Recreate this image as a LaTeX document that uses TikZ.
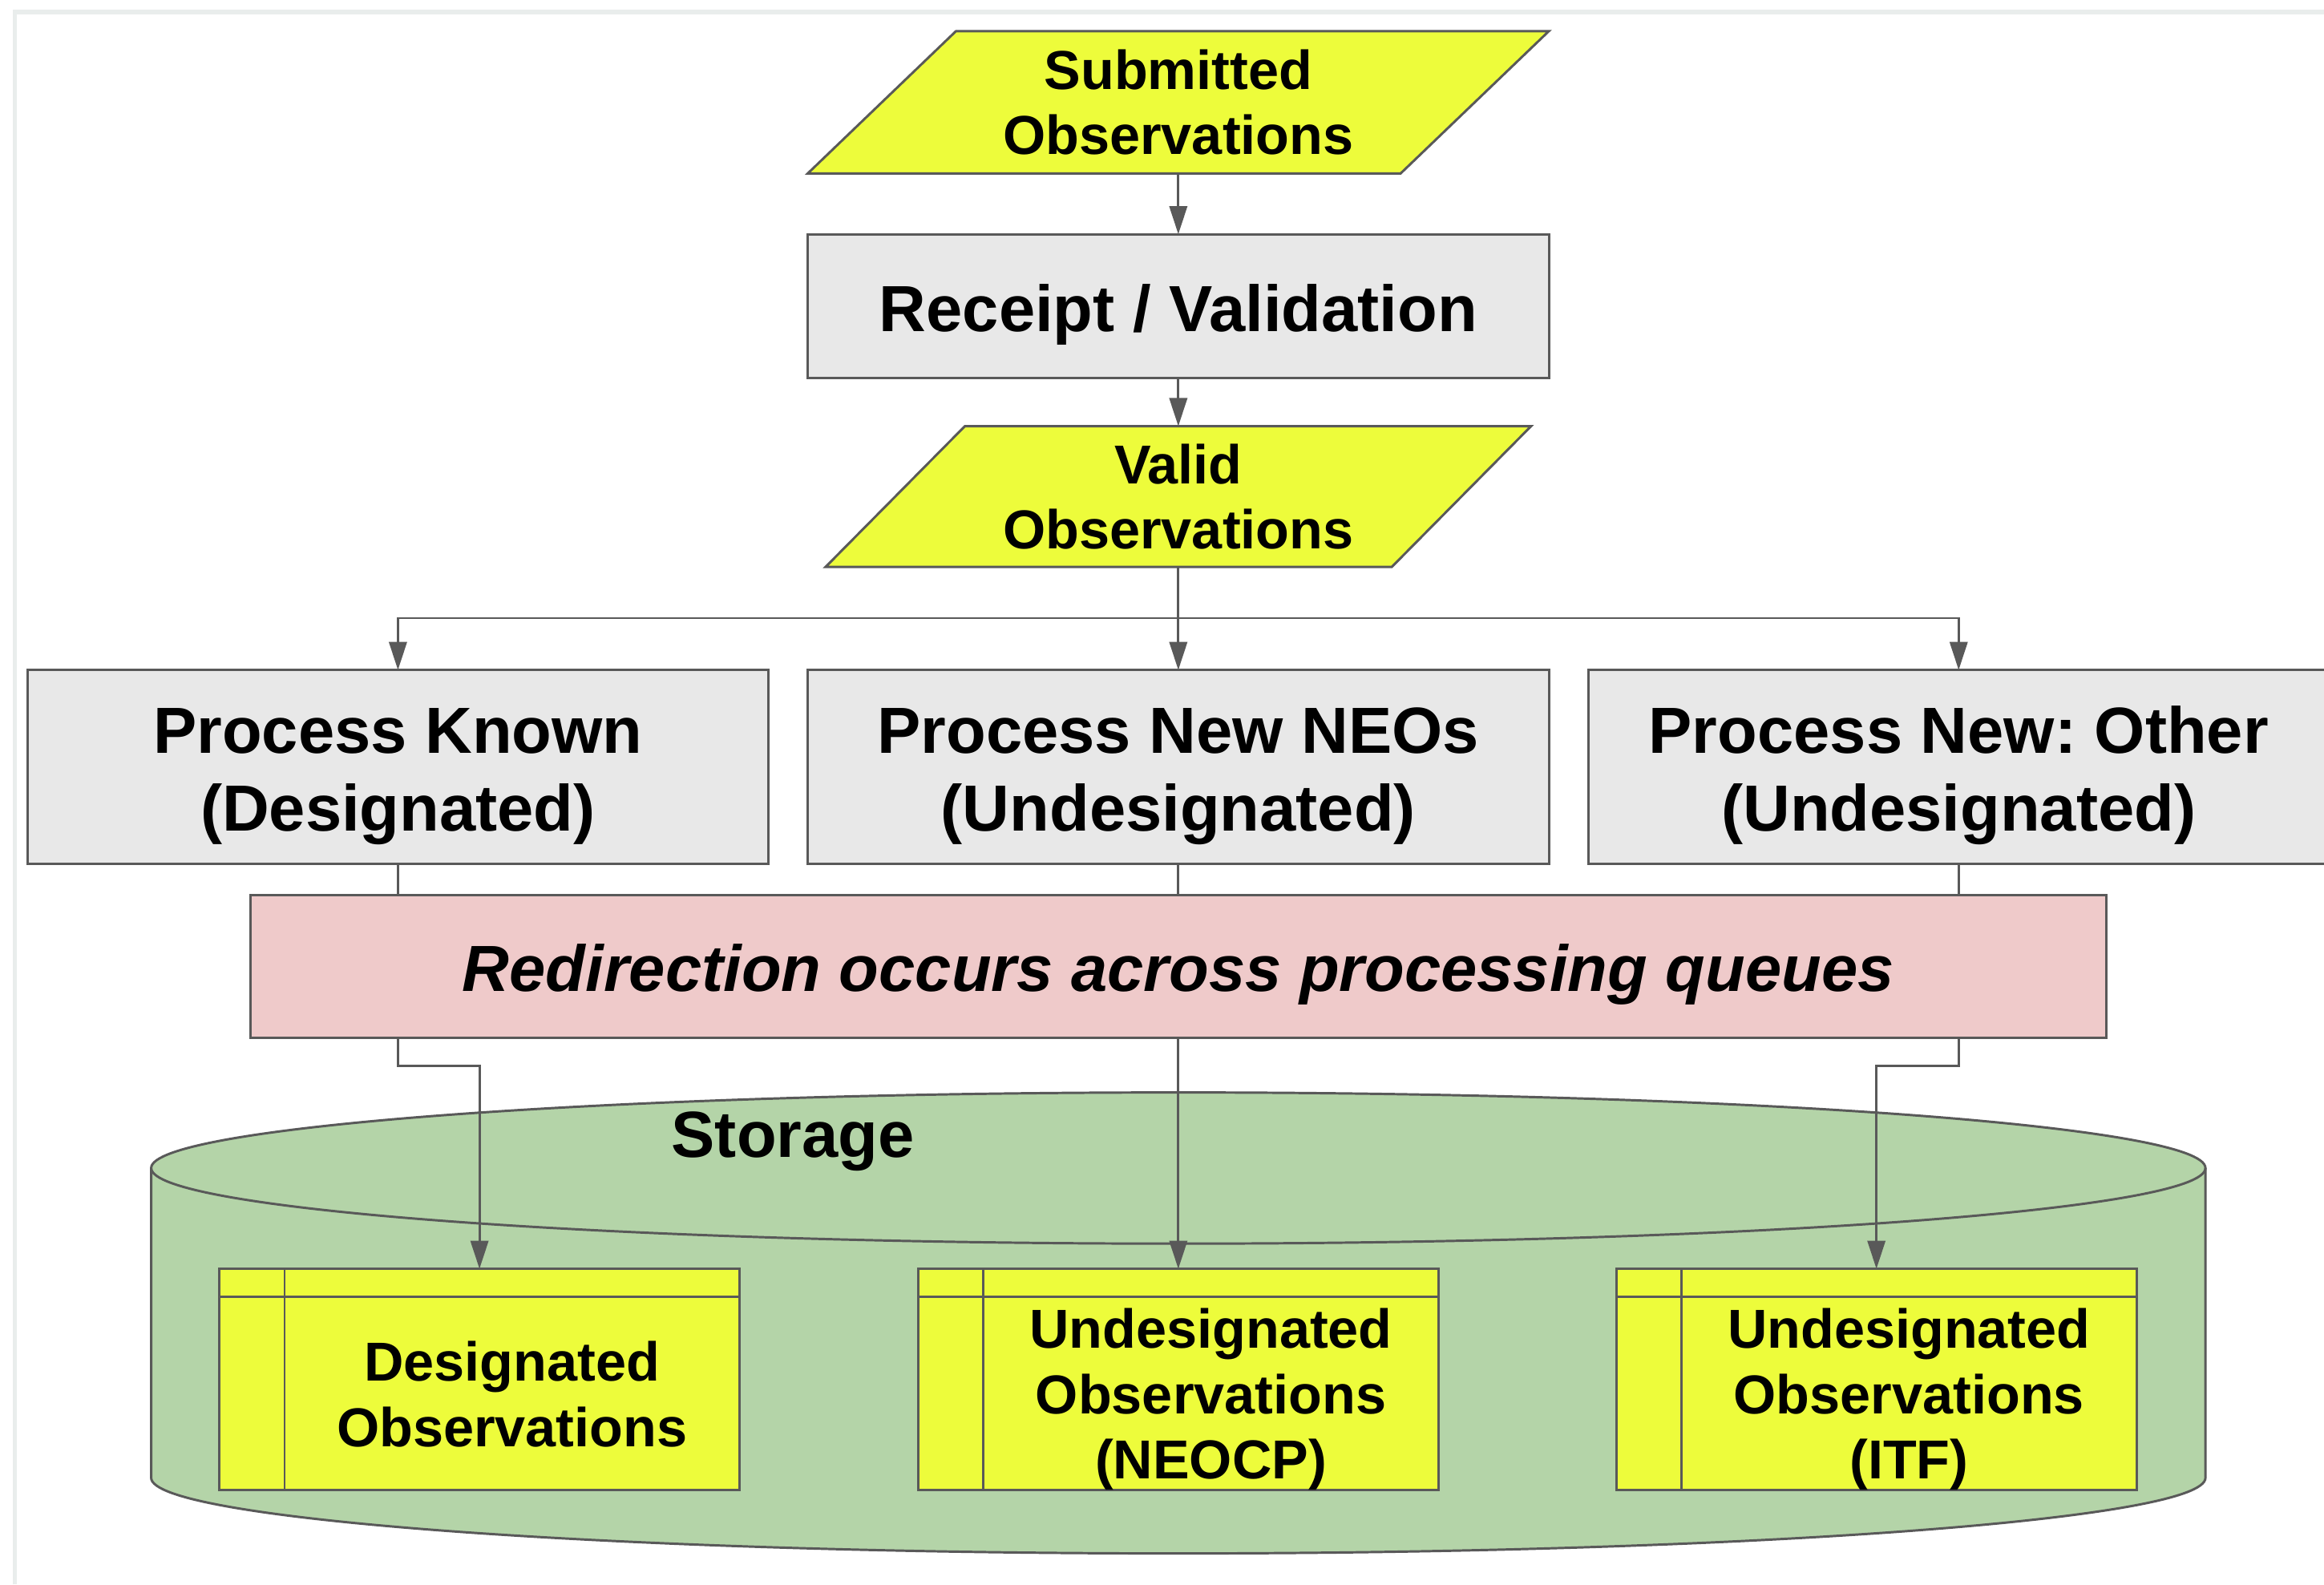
\documentclass[tikz,border=0pt]{standalone}
\usepackage{fontspec}
\setmainfont{Liberation Sans}
\usetikzlibrary{arrows.meta,calc}
\frenchspacing

\definecolor{edge}{HTML}{595959}
\definecolor{hilite}{HTML}{EDFC3B}
\definecolor{procgray}{HTML}{E8E8E8}
\definecolor{rose}{HTML}{EFCACA}
\definecolor{store}{HTML}{B4D4A8}
\definecolor{pageframe}{HTML}{E9EDEC}

\pgfdeclarelayer{canvas}
\pgfdeclarelayer{shapes}
\pgfsetlayers{canvas,shapes,main}

% taller first line, to lower the text in its box
\newcommand{\tallstrut}{\rule{0pt}{43pt}}

\begin{document}
\begin{tikzpicture}[x=1pt,y=-1pt,
  every node/.style={inner sep=0pt, outer sep=0pt},
  proc/.style={draw=edge, line width=1.6pt, fill=procgray, minimum width=500pt,
    align=center, font=\fontsize{44}{52}\selectfont\bfseries},
  iobox/.style={align=center, font=\fontsize{37}{44}\selectfont\bfseries},
  datatable/.style={draw=edge, line width=1.6pt, fill=hilite,
    minimum width=351pt, minimum height=149pt},
  tabletext/.style={align=center, font=\fontsize{37}{44}\selectfont\bfseries},
  ioedge/.style={draw=edge, line width=1.6pt, fill=hilite, line join=miter},
  link/.style={draw=edge, line width=1.6pt},
  arr/.style={link, -{Triangle[length=19pt,width=12pt]}}
]
\useasboundingbox (0,0) rectangle (1568,1069);

% page and its faint frame
\begin{pgfonlayer}{canvas}
  \fill[white] (0,0) rectangle (1568,1069);
  \draw[pageframe, line width=3pt] (10,1069) -- (10,8) -- (1568,8);
\end{pgfonlayer}

% storage cylinder
\fill[store] (102,788) -- (102,997)
  arc[start angle=180, end angle=360, x radius=693pt, y radius=51pt]
  -- (1488,788)
  arc[start angle=0, end angle=180, x radius=693pt, y radius=51pt] -- cycle;
\draw[link] (102,788) -- (102,997)
  arc[start angle=180, end angle=360, x radius=693pt, y radius=51pt]
  -- (1488,788)
  arc[start angle=0, end angle=180, x radius=693pt, y radius=51pt];
\draw[link] (1488,788)
  arc[start angle=0, end angle=-180, x radius=693pt, y radius=51pt];
\node[font=\fontsize{44}{52}\selectfont\bfseries] (storelabel) at (535,770) {Storage};

% input / output parallelograms
\node[iobox, minimum width=400pt, minimum height=96pt] (sub) at (795,69)
  {Submitted\\Observations};
\node[iobox, minimum width=382pt, minimum height=95pt] (valid) at (795,335)
  {Valid\\Observations};
\begin{pgfonlayer}{shapes}
  \draw[ioedge] ([xshift=50pt]sub.north west) -- ([xshift=50pt]sub.north east)
    -- ([xshift=-50pt]sub.south east) -- ([xshift=-50pt]sub.south west) -- cycle;
  \draw[ioedge] ([xshift=47pt]valid.north west) -- ([xshift=47pt]valid.north east)
    -- ([xshift=-47pt]valid.south east) -- ([xshift=-47pt]valid.south west) -- cycle;
\end{pgfonlayer}

% processing steps
\node[proc, minimum height=97pt] (recv) at (795,206.5) {\tallstrut Receipt / Validation};
\node[proc, minimum height=131pt] (known) at (268.5,517.5)
  {\tallstrut Process Known\\(Designated)};
\node[proc, minimum height=131pt] (neos) at (795,517.5)
  {\tallstrut Process New NEOs\\(Undesignated)};
\node[proc, minimum height=131pt] (other) at (1321.5,517.5)
  {\tallstrut Process New: Other\\(Undesignated)};

\node[draw=edge, line width=1.6pt, fill=rose, minimum width=1252pt, minimum height=96pt,
  font=\fontsize{44}{52}\selectfont\bfseries\itshape] (redir) at (795,652)
  {\tallstrut Redirection occurs across processing queues};

% stored tables
\node[datatable] (des) at (323.5,930.5) {};
\node[datatable] (neo) at (795,930.5) {};
\node[datatable] (itf) at (1266,930.5) {};
\foreach \t in {des,neo,itf}{
  \draw[link] ([yshift=-19pt]\t.north west) -- ([yshift=-19pt]\t.north east);
  \draw[link] ([xshift=44pt]\t.north west) -- ([xshift=44pt]\t.south west);
}
\node[tabletext] (destext) at ($(des.center)+(22,10)$) {Designated\\Observations};
\node[tabletext] (neotext) at ($(neo.center)+(22,13.5)$) {Undesignated\\Observations\\(NEOCP)};
\node[tabletext] (itftext) at ($(itf.center)+(22,13.5)$) {Undesignated\\Observations\\(ITF)};

% connectors
\draw[arr] (sub.south) -- (recv.north);
\draw[arr] (recv.south) -- (valid.north);
\coordinate (fork) at (795,417);
\draw[link] (valid.south) -- (fork);
\draw[arr] (fork) -| (known.north);
\draw[arr] (fork) -- (neos.north);
\draw[arr] (fork) -| (other.north);

\draw[link] (known.south) -- (known.south |- redir.north);
\draw[link] (neos.south) -- (neos.south |- redir.north);
\draw[link] (other.south) -- (other.south |- redir.north);

\draw[arr] (known.south |- redir.south) -- ++(0,19) -| (des.north);
\draw[arr] (neos.south |- redir.south) -- (neo.north);
\draw[arr] (other.south |- redir.south) -- ++(0,19) -| (itf.north);
\end{tikzpicture}
\end{document}
